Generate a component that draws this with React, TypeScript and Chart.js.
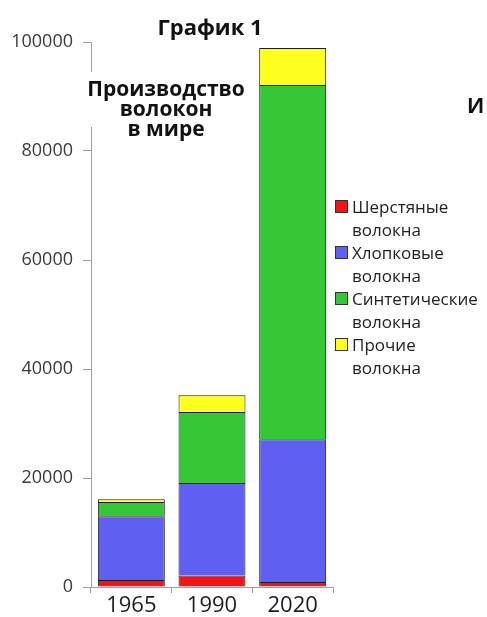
import React, { useEffect, useRef } from "react";
import { Chart, registerables } from "chart.js";

Chart.register(...registerables);

const categories = ["1965", "1990", "2020"];
const woolValues = [1300, 2100, 900];
const cottonValues = [11700, 17000, 26200];
const syntheticValues = [2600, 13000, 65000];
const otherValues = [500, 3100, 6800];
const seriesLabels = ["Шерстяные волокна", "Хлопковые волокна", "Синтетические волокна", "Прочие волокна"];
const seriesColors = ["#f21515", "#5f5ff2", "#35c735", "#ffff1e"];
const yTickMax = 100000;
const yTickStep = 20000;
const chartTitle = "График 1";
const annotationLines = ["Производство", "волокон", "в мире"];
const nextChartTitle = "И";

export default function App() {
  const canvasRef = useRef<HTMLCanvasElement | null>(null);

  useEffect(() => {
    const canvas = canvasRef.current;
    if (!canvas) return;
    const values = [woolValues, cottonValues, syntheticValues, otherValues];
    const chart = new Chart(canvas, {
      type: "bar",
      data: {
        labels: categories,
        datasets: values.map((v, i) => ({
          label: seriesLabels[i],
          data: v,
          backgroundColor: seriesColors[i],
          borderColor: "#1c1c24",
          borderWidth: 1,
          barPercentage: 0.83,
          categoryPercentage: 1,
        })),
      },
      options: {
        responsive: false,
        animation: false,
        layout: { padding: { left: 0, right: 154, top: 42, bottom: 0 } },
        plugins: { legend: { display: false }, title: { display: false }, tooltip: { enabled: false } },
        scales: {
          x: {
            stacked: true,
            afterFit: (s: any) => {
              s.height = 30;
            },
            grid: { drawOnChartArea: false, tickLength: 6, color: "#a0a0a0" },
            border: { color: "#a0a0a0" },
            ticks: {
              font: { family: "'Open Sans'", size: 22 },
              color: "#1c1c28",
              padding: 0,
            },
          },
          y: {
            stacked: true,
            min: 0,
            max: yTickMax,
            afterFit: (s: any) => {
              s.width = 91;
            },
            grid: { drawOnChartArea: false, tickLength: 8, color: "#a0a0a0" },
            border: { color: "#a0a0a0" },
            ticks: {
              stepSize: yTickStep,
              font: { family: "'Open Sans'", size: 18 },
              color: "#3a3a3a",
              padding: 10,
              callback: (v: any) => String(v),
            },
          },
        },
      },
    });
    return () => chart.destroy();
  }, []);

  return (
    <div
      style={{
        position: "absolute",
        left: 0,
        top: 0,
        width: 487,
        height: 617,
        overflow: "hidden",
        background: "#fff",
        fontFamily: "'Open Sans', sans-serif",
      }}
    >
      <canvas ref={canvasRef} width={487} height={617} style={{ position: "absolute", left: 0, top: 0 }} />
      <div
        style={{
          position: "absolute",
          left: 110,
          top: 11,
          width: 200,
          textAlign: "center",
          fontWeight: 700,
          fontSize: 22,
          lineHeight: "30px",
          color: "#111",
        }}
      >
        {chartTitle}
      </div>
      <div
        style={{
          position: "absolute",
          left: 82,
          top: 72,
          width: 170,
          height: 55,
          background: "#fff",
        }}
      />
      <div
        style={{
          position: "absolute",
          left: 66,
          top: 78,
          width: 200,
          textAlign: "center",
          fontWeight: 700,
          fontSize: 21,
          lineHeight: "20px",
          color: "#111",
        }}
      >
        {annotationLines.map((l, i) => (
          <div key={i}>{l}</div>
        ))}
      </div>
      <div
        style={{
          position: "absolute",
          left: 467,
          top: 90,
          fontWeight: 700,
          fontSize: 21,
          lineHeight: "30px",
          color: "#111",
          whiteSpace: "nowrap",
        }}
      >
        {nextChartTitle}
      </div>
      <div style={{ position: "absolute", left: 335, top: 195, width: 152 }}>
        {seriesLabels.map((label, i) => (
          <div
            key={i}
            style={{
              position: "relative",
              paddingLeft: 17,
              fontSize: 17,
              lineHeight: "23px",
              color: "#222",
            }}
          >
            <span
              style={{
                position: "absolute",
                left: 0,
                top: 5,
                width: 11,
                height: 11,
                background: seriesColors[i],
                border: "1px solid #333",
              }}
            />
            {label.split(" ").map((w, j) => (
              <div key={j}>{w}</div>
            ))}
          </div>
        ))}
      </div>
    </div>
  );
}
